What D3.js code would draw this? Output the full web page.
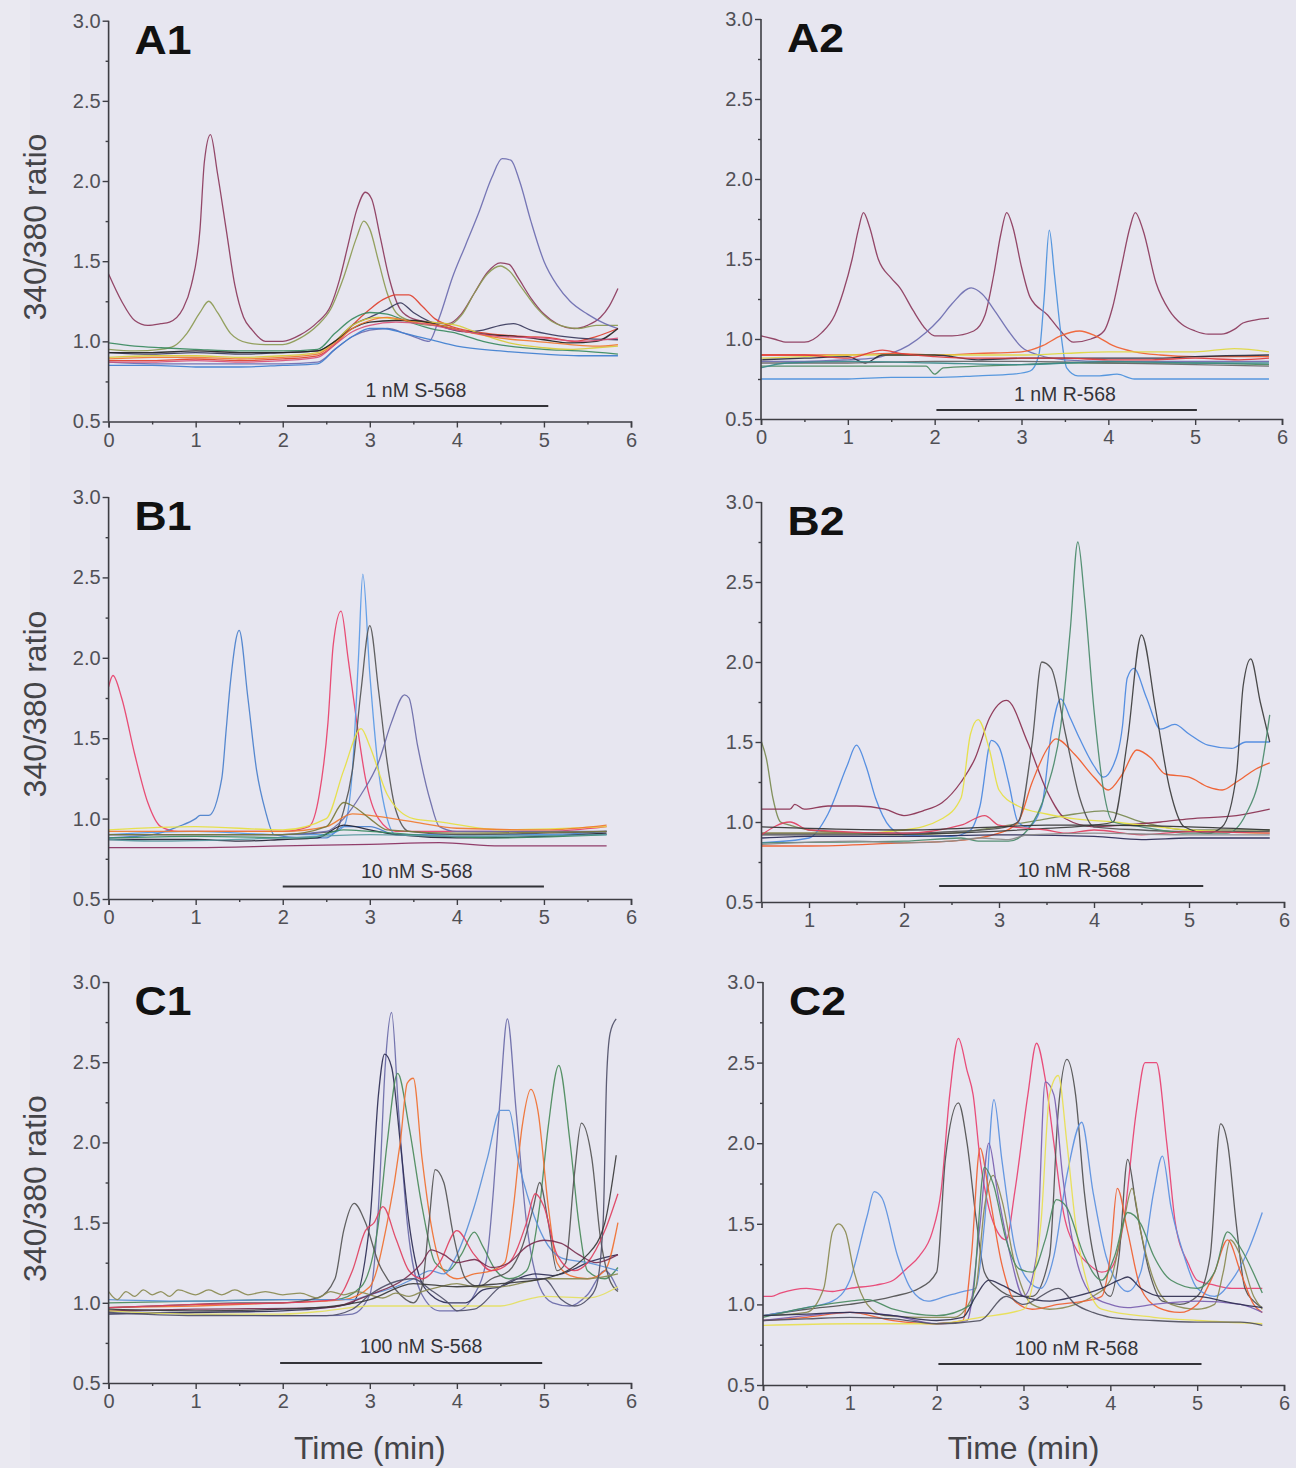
<!DOCTYPE html>
<html><head><meta charset="utf-8">
<script src="https://cdn.jsdelivr.net/npm/d3@7"></script>
<style>
html,body{margin:0;padding:0;background:#e7e6f0;}
svg{display:block;}
text{font-family:"Liberation Sans",Arial,Helvetica,sans-serif;}
</style></head><body>
<svg id="chart" width="1296" height="1468"></svg>
<script>
// ---------------- DATA ----------------
const yTickValues = [0.5, 1.0, 1.5, 2.0, 2.5, 3.0];
const yTickLabels = ["0.5", "1.0", "1.5", "2.0", "2.5", "3.0"];
const xTickValues = [0, 1, 2, 3, 4, 5, 6];
const xTickValuesB2 = [1, 2, 3, 4, 5, 6];
const panelNames = ["A1", "A2", "B1", "B2", "C1", "C2"];
const drugLabels = ["1 nM S-568", "1 nM R-568", "10 nM S-568", "10 nM R-568", "100 nM S-568", "100 nM R-568"];
const drugStart = [2.05, 2.02, 2.0, 2.37, 1.97, 2.02];
const drugEnd = [5.05, 5.02, 5.0, 5.15, 4.98, 5.05];

// A1 traces [time (min), 340/380 ratio]
const A1 = [
 [[0,1.42],[0.15,1.25],[0.3,1.13],[0.45,1.1],[0.6,1.11],[0.7,1.12],[0.85,1.2],[0.95,1.35],[1.05,1.7],[1.1,2.12],[1.17,2.29],[1.25,2.05],[1.35,1.7],[1.45,1.35],[1.55,1.15],[1.65,1.07],[1.8,1.0],[2.0,1.0],[2.2,1.04],[2.4,1.12],[2.55,1.22],[2.65,1.38],[2.75,1.6],[2.85,1.82],[2.95,1.93],[3.02,1.89],[3.12,1.65],[3.22,1.4],[3.35,1.2],[3.5,1.14],[3.7,1.12],[3.9,1.11],[4.05,1.17],[4.2,1.3],[4.35,1.43],[4.5,1.49],[4.6,1.48],[4.7,1.4],[4.85,1.27],[5.0,1.17],[5.15,1.11],[5.35,1.08],[5.5,1.1],[5.65,1.15],[5.75,1.22],[5.85,1.33]],
 [[0,0.95],[0.3,0.94],[0.6,0.95],[0.75,0.97],[0.9,1.05],[1.05,1.18],[1.15,1.25],[1.25,1.18],[1.4,1.05],[1.6,0.99],[1.8,0.98],[2.0,0.98],[2.2,1.02],[2.4,1.1],[2.55,1.2],[2.7,1.4],[2.85,1.65],[2.93,1.75],[3.0,1.7],[3.1,1.5],[3.2,1.3],[3.3,1.18],[3.45,1.13],[3.7,1.1],[3.9,1.1],[4.05,1.16],[4.2,1.3],[4.35,1.42],[4.5,1.47],[4.6,1.44],[4.75,1.33],[4.9,1.22],[5.05,1.14],[5.25,1.09],[5.4,1.08],[5.6,1.1],[5.85,1.1]],
 [[0,0.87],[0.5,0.86],[1.0,0.86],[1.5,0.86],[2.0,0.86],[2.4,0.87],[2.6,0.95],[2.8,1.03],[3.0,1.07],[3.2,1.08],[3.4,1.05],[3.55,1.02],[3.68,1.0],[3.8,1.15],[3.95,1.4],[4.1,1.6],[4.25,1.8],[4.4,2.02],[4.52,2.14],[4.62,2.13],[4.72,2.0],[4.85,1.75],[5.0,1.5],[5.15,1.35],[5.3,1.25],[5.5,1.17],[5.7,1.11],[5.85,1.08]],
 [[0,0.88],[0.5,0.88],[1.0,0.89],[1.5,0.88],[2.0,0.89],[2.4,0.91],[2.6,0.98],[2.8,1.1],[3.0,1.2],[3.15,1.26],[3.3,1.29],[3.45,1.29],[3.6,1.22],[3.75,1.14],[3.9,1.1],[4.2,1.06],[4.5,1.04],[4.8,1.03],[5.1,1.02],[5.35,1.0],[5.6,1.03],[5.85,1.08]],
 [[0,0.93],[0.5,0.92],[1.0,0.93],[1.5,0.92],[2.0,0.93],[2.4,0.94],[2.6,1.0],[2.8,1.1],[3.0,1.15],[3.2,1.2],[3.35,1.24],[3.5,1.18],[3.7,1.12],[3.9,1.08],[4.1,1.06],[4.3,1.07],[4.5,1.1],[4.65,1.11],[4.85,1.07],[5.1,1.04],[5.4,1.02],[5.85,1.01]],
 [[0,0.99],[0.3,0.97],[0.6,0.96],[1.0,0.95],[1.5,0.94],[2.0,0.94],[2.4,0.95],[2.6,1.05],[2.8,1.14],[3.0,1.18],[3.2,1.17],[3.4,1.13],[3.7,1.08],[4.0,1.05],[4.3,1.0],[4.6,0.97],[5.0,0.95],[5.4,0.94],[5.85,0.92]],
 [[0,0.9],[0.5,0.91],[1.0,0.91],[1.5,0.9],[2.0,0.91],[2.4,0.93],[2.6,1.0],[2.8,1.1],[3.1,1.15],[3.4,1.13],[3.7,1.12],[4.0,1.1],[4.3,1.04],[4.6,0.99],[5.0,0.96],[5.3,0.95],[5.6,0.96],[5.85,0.97]],
 [[0,0.85],[0.5,0.85],[1.0,0.84],[1.5,0.84],[2.0,0.85],[2.4,0.86],[2.6,0.95],[2.8,1.03],[3.0,1.08],[3.15,1.08],[3.4,1.05],[3.7,1.01],[4.0,0.97],[4.5,0.94],[5.0,0.92],[5.4,0.91],[5.85,0.91]],
 [[0,0.93],[0.5,0.93],[1.0,0.94],[1.5,0.93],[2.0,0.93],[2.4,0.94],[2.6,1.0],[2.8,1.08],[3.0,1.12],[3.3,1.13],[3.5,1.13],[3.8,1.1],[4.1,1.06],[4.4,1.04],[4.7,1.03],[5.0,1.01],[5.3,0.99],[5.6,1.0],[5.85,1.08]],
 [[0,0.89],[0.5,0.9],[1.0,0.9],[1.5,0.89],[2.0,0.9],[2.4,0.92],[2.6,0.99],[2.8,1.08],[3.0,1.13],[3.2,1.15],[3.5,1.12],[3.8,1.1],[4.1,1.06],[4.5,1.02],[4.9,1.0],[5.3,0.98],[5.6,0.97],[5.85,0.98]],
 [[0,0.87],[0.5,0.87],[1.0,0.88],[1.5,0.87],[2.0,0.88],[2.4,0.9],[2.6,0.98],[2.8,1.06],[3.0,1.1],[3.3,1.12],[3.6,1.11],[4.0,1.07],[4.5,1.03],[5.0,1.02],[5.4,1.0],[5.85,1.02]]
];
const A2 = [
 [[0,1.02],[0.15,1.0],[0.3,0.98],[0.5,0.98],[0.7,1.04],[0.85,1.15],[0.95,1.3],[1.05,1.5],[1.12,1.68],[1.18,1.79],[1.25,1.7],[1.35,1.5],[1.5,1.38],[1.6,1.32],[1.75,1.18],[1.9,1.06],[2.0,1.02],[2.2,1.02],[2.45,1.05],[2.58,1.15],[2.68,1.4],[2.76,1.65],[2.83,1.79],[2.9,1.7],[3.0,1.45],[3.1,1.26],[3.3,1.15],[3.45,1.05],[3.6,0.98],[3.8,1.0],[3.95,1.05],[4.05,1.2],[4.15,1.45],[4.25,1.7],[4.31,1.79],[4.4,1.68],[4.55,1.35],[4.7,1.18],[4.85,1.09],[5.0,1.05],[5.15,1.03],[5.3,1.03],[5.45,1.06],[5.55,1.1],[5.7,1.12],[5.85,1.13]],
 [[0,0.86],[0.5,0.86],[1.0,0.87],[1.3,0.88],[1.5,0.91],[1.7,0.96],[1.9,1.04],[2.05,1.12],[2.2,1.22],[2.42,1.32],[2.55,1.28],[2.7,1.17],[2.85,1.05],[3.0,0.95],[3.2,0.9],[3.5,0.87],[4.0,0.86],[4.5,0.86],[5.0,0.86],[5.85,0.86]],
 [[0,0.75],[0.5,0.75],[1.0,0.75],[1.5,0.76],[2.0,0.76],[2.5,0.77],[2.9,0.78],[3.1,0.8],[3.2,0.9],[3.26,1.25],[3.32,1.68],[3.38,1.4],[3.45,1.05],[3.52,0.82],[3.65,0.77],[3.9,0.77],[4.1,0.78],[4.3,0.75],[5.0,0.75],[5.85,0.75]],
 [[0,0.9],[0.5,0.9],[1.0,0.9],[1.5,0.91],[2.0,0.9],[2.5,0.91],[3.0,0.92],[3.25,0.96],[3.45,1.02],[3.67,1.05],[3.85,1.02],[4.05,0.96],[4.3,0.92],[4.6,0.9],[5.0,0.89],[5.4,0.89],[5.85,0.89]],
 [[0,0.88],[0.5,0.89],[1.0,0.9],[2.0,0.9],[3.0,0.9],[3.5,0.91],[4.0,0.92],[4.5,0.92],[5.0,0.92],[5.45,0.94],[5.85,0.92]],
 [[0,0.83],[0.5,0.83],[1.0,0.83],[1.5,0.83],[1.9,0.83],[2.0,0.78],[2.1,0.82],[2.5,0.83],[3.0,0.84],[3.5,0.85],[4.0,0.85],[5.0,0.85],[5.85,0.84]],
 [[0,0.87],[0.5,0.88],[1.0,0.89],[1.2,0.85],[1.4,0.9],[2.0,0.9],[2.5,0.87],[3.0,0.88],[3.5,0.88],[4.0,0.88],[4.5,0.88],[5.0,0.89],[5.85,0.9]],
 [[0,0.9],[0.5,0.9],[1.0,0.88],[1.4,0.93],[1.6,0.91],[2.0,0.89],[2.5,0.88],[3.0,0.88],[3.5,0.88],[4.0,0.87],[4.5,0.87],[5.0,0.88],[5.5,0.87],[5.85,0.88]],
 [[0,0.85],[0.5,0.85],[1.0,0.85],[2.0,0.86],[3.0,0.86],[4.0,0.85],[5.0,0.84],[5.85,0.83]],
 [[0,0.82],[0.3,0.85],[1.0,0.86],[2.0,0.85],[3.0,0.84],[4.0,0.86],[5.0,0.85],[5.85,0.85]]
];
const B1 = [
 [[0,1.82],[0.05,1.89],[0.15,1.75],[0.3,1.4],[0.45,1.1],[0.6,0.95],[0.8,0.92],[1.5,0.92],[2.0,0.92],[2.3,0.95],[2.42,1.15],[2.52,1.6],[2.58,2.08],[2.67,2.29],[2.75,2.0],[2.85,1.6],[2.95,1.25],[3.1,1.0],[3.3,0.92],[4.0,0.92],[5.0,0.92],[5.72,0.95]],
 [[0,0.88],[0.5,0.9],[0.8,0.95],[1.0,1.0],[1.05,1.02],[1.15,1.02],[1.3,1.25],[1.35,1.55],[1.4,1.85],[1.5,2.17],[1.6,1.75],[1.7,1.3],[1.8,1.05],[1.9,0.9],[2.2,0.88],[2.5,0.88],[2.7,0.95],[3.0,0.95],[3.3,0.9],[4.0,0.9],[5.0,0.9],[5.72,0.92]],
 [[0,0.9],[1.0,0.92],[2.0,0.9],[2.5,0.9],[2.7,0.95],[2.8,1.3],[2.87,2.0],[2.92,2.52],[3.0,1.9],[3.1,1.3],[3.2,1.0],[3.3,0.9],[4.0,0.9],[5.0,0.9],[5.72,0.9]],
 [[0,0.9],[1.0,0.9],[2.0,0.9],[2.6,0.92],[2.7,1.05],[2.8,1.3],[2.9,1.8],[3.0,2.2],[3.1,1.8],[3.2,1.35],[3.3,1.05],[3.45,0.92],[4.0,0.9],[5.0,0.91],[5.72,0.92]],
 [[0,0.9],[1.0,0.9],[2.0,0.9],[2.5,0.92],[2.7,1.0],[2.9,1.15],[3.1,1.35],[3.25,1.6],[3.4,1.77],[3.45,1.75],[3.55,1.45],[3.7,1.1],[3.8,0.95],[4.0,0.92],[5.0,0.92],[5.72,0.92]],
 [[0,0.93],[1.0,0.95],[2.0,0.93],[2.5,1.0],[2.7,1.3],[2.9,1.56],[3.0,1.45],[3.2,1.15],[3.5,1.0],[3.8,0.98],[4.5,0.93],[5.72,0.95]],
 [[0,0.92],[1.0,0.92],[2.0,0.92],[2.5,0.95],[2.8,1.03],[3.0,1.02],[3.5,0.98],[4.0,0.94],[5.0,0.93],[5.72,0.96]],
 [[0,0.9],[1.0,0.9],[2.0,0.9],[2.5,0.95],[2.7,1.1],[2.8,1.08],[3.0,1.0],[3.2,0.93],[4.0,0.91],[5.72,0.92]],
 [[0,0.87],[1.0,0.87],[1.5,0.86],[2.0,0.87],[2.4,0.88],[2.7,0.96],[3.0,0.93],[3.3,0.9],[4.0,0.88],[5.0,0.89],[5.72,0.91]],
 [[0,0.88],[1.0,0.89],[2.3,0.88],[2.7,0.93],[3.0,0.92],[3.5,0.9],[4.5,0.88],[5.72,0.9]],
 [[0,0.82],[1.0,0.82],[2.0,0.83],[3.0,0.84],[3.8,0.85],[4.5,0.83],[5.72,0.83]],
 [[0,0.87],[0.5,0.86],[2.0,0.88],[3.0,0.9],[4.0,0.89],[5.72,0.9]]
];
const B2 = [
 [[0.5,1.5],[0.55,1.4],[0.62,1.15],[0.7,1.0],[0.8,0.98],[1.0,0.95],[1.5,0.93],[2.0,0.92],[2.5,0.93],[3.0,0.97],[3.5,1.02],[3.8,1.05],[4.1,1.07],[4.5,1.0],[5.0,0.95],[5.85,0.95]],
 [[0.5,0.87],[1.0,0.9],[1.2,1.05],[1.4,1.35],[1.5,1.48],[1.6,1.35],[1.7,1.15],[1.85,0.97],[2.0,0.92],[2.5,0.91],[2.7,0.95],[2.8,1.1],[2.92,1.51],[3.0,1.47],[3.1,1.25],[3.2,1.0],[3.3,0.97],[3.45,1.1],[3.55,1.55],[3.65,1.77],[3.75,1.65],[3.85,1.52],[4.0,1.35],[4.1,1.28],[4.2,1.35],[4.3,1.6],[4.35,1.9],[4.42,1.96],[4.55,1.78],[4.7,1.58],[4.85,1.61],[5.0,1.55],[5.2,1.48],[5.45,1.46],[5.6,1.5],[5.85,1.5]],
 [[0.5,1.08],[0.8,1.08],[0.85,1.11],[0.95,1.08],[1.2,1.1],[1.5,1.1],[1.8,1.08],[2.0,1.04],[2.2,1.07],[2.4,1.12],[2.6,1.25],[2.75,1.4],[2.9,1.65],[3.08,1.76],[3.3,1.5],[3.5,1.2],[3.7,1.02],[4.0,0.97],[4.3,0.98],[4.7,1.0],[5.0,1.02],[5.5,1.04],[5.85,1.08]],
 [[0.5,0.93],[1.5,0.93],[2.0,0.95],[2.4,1.02],[2.6,1.15],[2.7,1.55],[2.78,1.64],[2.9,1.45],[3.0,1.2],[3.2,1.1],[3.5,1.05],[3.8,1.02],[4.2,1.0],[5.0,0.95],[5.85,0.93]],
 [[0.5,0.85],[1.0,0.85],[2.0,0.87],[2.5,0.88],[3.0,0.93],[3.2,1.0],[3.35,1.25],[3.5,1.45],[3.6,1.52],[3.8,1.42],[4.0,1.28],[4.15,1.2],[4.3,1.3],[4.45,1.45],[4.6,1.4],[4.75,1.3],[5.0,1.28],[5.2,1.22],[5.35,1.2],[5.5,1.25],[5.7,1.33],[5.85,1.37]],
 [[0.5,0.93],[1.0,0.93],[2.0,0.93],[2.5,0.94],[3.0,0.96],[3.2,1.0],[3.35,1.5],[3.45,2.0],[3.55,1.96],[3.7,1.55],[3.85,1.15],[4.0,0.97],[4.5,0.95],[5.0,0.94],[5.85,0.94]],
 [[0.5,0.92],[1.5,0.92],[2.5,0.93],[3.5,0.96],[4.0,0.98],[4.2,1.0],[4.35,1.5],[4.5,2.17],[4.65,1.7],[4.8,1.2],[4.95,0.97],[5.2,0.93],[5.35,0.97],[5.5,1.3],[5.57,1.85],[5.65,2.02],[5.75,1.75],[5.85,1.5]],
 [[0.5,0.87],[2.0,0.88],[2.6,0.9],[2.8,0.88],[3.1,0.88],[3.3,0.95],[3.5,1.2],[3.65,1.6],[3.75,2.2],[3.83,2.75],[3.9,2.4],[4.0,1.7],[4.1,1.2],[4.2,1.0],[4.5,0.97],[5.0,0.93],[5.4,0.93],[5.6,1.05],[5.75,1.3],[5.85,1.67]],
 [[0.5,0.92],[0.8,1.0],[1.0,0.95],[2.0,0.93],[2.6,0.98],[2.85,1.04],[3.0,0.98],[3.5,0.95],[3.7,0.93],[4.0,0.95],[4.5,0.92],[5.0,0.94],[5.85,0.93]],
 [[0.5,0.9],[1.0,0.91],[2.0,0.91],[3.0,0.92],[4.0,0.91],[4.5,0.89],[5.0,0.9],[5.85,0.9]],
 [[0.5,0.97],[1.0,0.96],[2.0,0.95],[3.0,0.97],[3.5,0.98],[4.0,0.98],[5.0,0.97],[5.85,0.95]],
 [[0.5,0.86],[1.5,0.88],[2.0,0.87],[2.5,0.88],[2.8,0.9],[3.1,0.89],[3.3,0.92],[4.0,0.93],[5.0,0.92],[5.85,0.92]]
];
const C1 = [
 [[0,0.95],[1,0.93],[2,0.92],[2.5,0.92],[2.8,0.93],[3.0,1.05],[3.1,1.6],[3.18,2.5],[3.25,2.81],[3.33,2.2],[3.43,1.5],[3.6,1.05],[3.8,0.95],[4.0,0.95],[4.2,1.05],[4.35,1.3],[4.42,1.7],[4.5,2.3],[4.58,2.77],[4.68,2.2],[4.8,1.5],[4.95,1.1],[5.1,1.0],[5.3,0.98],[5.5,1.05],[5.7,1.2],[5.85,1.08]],
 [[0,0.93],[1,0.94],[2,0.95],[2.5,0.97],[2.8,1.0],[3.0,1.5],[3.1,2.3],[3.17,2.55],[3.25,2.47],[3.35,2.0],[3.45,1.5],[3.55,1.2],[3.7,1.05],[3.9,1.0],[4.1,1.0],[4.3,1.08],[4.5,1.1],[4.7,1.15],[4.9,1.18],[5.1,1.17],[5.3,1.2],[5.5,1.25],[5.85,1.3]],
 [[0,1.0],[1,1.01],[2,1.02],[2.6,1.02],[2.9,1.1],[3.1,1.5],[3.2,2.0],[3.32,2.43],[3.45,2.1],[3.6,1.6],[3.75,1.25],[3.9,1.2],[4.05,1.3],[4.2,1.44],[4.3,1.35],[4.45,1.2],[4.6,1.15],[4.8,1.2],[4.95,1.6],[5.05,2.1],[5.17,2.48],[5.3,2.0],[5.4,1.5],[5.5,1.2],[5.7,1.15],[5.85,1.22]],
 [[0,0.97],[1,0.98],[2,1.0],[2.7,1.02],[3.0,1.1],[3.2,1.5],[3.35,2.0],[3.43,2.37],[3.5,2.4],[3.6,1.9],[3.7,1.5],[3.85,1.2],[4.0,1.15],[4.2,1.18],[4.4,1.2],[4.55,1.25],[4.65,1.6],[4.75,2.1],[4.85,2.33],[4.93,2.2],[5.05,1.6],[5.15,1.25],[5.3,1.17],[5.5,1.15],[5.7,1.2],[5.85,1.5]],
 [[0,1.02],[1,1.01],[2,1.02],[2.8,1.02],[3.0,1.05],[3.3,1.1],[3.5,1.15],[3.7,1.2],[3.85,1.18],[4.0,1.3],[4.2,1.6],[4.35,1.9],[4.5,2.2],[4.6,2.2],[4.7,1.9],[4.85,1.6],[5.0,1.4],[5.2,1.28],[5.5,1.25],[5.85,1.2]],
 [[0,0.97],[1,0.99],[1.5,1.0],[2.0,1.0],[2.4,1.03],[2.6,1.15],[2.7,1.45],[2.82,1.62],[2.95,1.5],[3.1,1.25],[3.3,1.08],[3.5,1.0],[3.6,1.1],[3.68,1.5],[3.75,1.83],[3.85,1.75],[3.95,1.45],[4.1,1.15],[4.25,1.1],[4.4,1.15],[4.6,1.2],[4.75,1.35],[4.88,1.6],[4.95,1.75],[5.05,1.5],[5.15,1.2],[5.25,1.25],[5.35,1.8],[5.43,2.12],[5.55,1.9],[5.65,1.4],[5.75,1.15],[5.85,1.07]],
 [[0,0.97],[1,0.99],[2,1.0],[2.6,1.02],[2.8,1.2],[2.95,1.45],[3.05,1.5],[3.15,1.6],[3.3,1.4],[3.45,1.2],[3.6,1.15],[3.8,1.25],[4.0,1.45],[4.2,1.3],[4.4,1.2],[4.6,1.25],[4.8,1.5],[4.9,1.68],[5.0,1.6],[5.15,1.3],[5.35,1.2],[5.5,1.25],[5.7,1.45],[5.85,1.68]],
 [[0,0.95],[1,0.96],[2.5,0.97],[3.0,1.05],[3.4,1.15],[3.6,1.25],[3.7,1.33],[3.85,1.3],[4.0,1.25],[4.2,1.27],[4.4,1.22],[4.6,1.25],[4.8,1.35],[5.0,1.39],[5.2,1.37],[5.4,1.3],[5.6,1.25],[5.85,1.3]],
 [[0,1.07],[0.1,1.02],[0.2,1.07],[0.3,1.04],[0.4,1.08],[0.5,1.05],[0.6,1.07],[0.7,1.04],[0.8,1.08],[1.0,1.05],[1.15,1.08],[1.3,1.05],[1.45,1.08],[1.6,1.05],[1.8,1.07],[2.0,1.05],[2.2,1.06],[2.4,1.03],[2.55,1.07],[2.7,1.05],[2.85,1.07],[3.0,1.05],[3.15,1.03],[3.3,1.06],[3.45,1.04],[3.6,1.07],[3.8,1.1],[4.0,1.12],[4.2,1.1],[4.5,1.1],[4.8,1.13],[5.0,1.15],[5.3,1.15],[5.5,1.15],[5.85,1.18]],
 [[0,0.95],[1,0.93],[2,0.93],[2.5,0.95],[3,0.98],[3.5,0.98],[4,0.98],[4.5,0.98],[4.8,1.02],[5.0,1.04],[5.5,1.03],[5.85,1.1]],
 [[0,0.94],[1,0.92],[2,0.92],[2.5,0.92],[2.8,0.96],[3,1.05],[3.5,1.15],[3.7,1.08],[3.9,1.0],[4.0,0.95],[4.2,0.96],[4.5,1.1],[4.7,1.15],[5.0,1.15],[5.2,1.02],[5.35,0.98],[5.5,1.02],[5.6,1.1],[5.68,1.5],[5.72,2.4],[5.76,2.68],[5.83,2.77]],
 [[0,0.96],[1,0.95],[2,0.96],[2.6,0.98],[3.0,1.02],[3.5,1.12],[4.0,1.1],[4.5,1.12],[5.0,1.15],[5.5,1.3],[5.7,1.5],[5.83,1.92]]
];
const C2 = [
 [[0,1.05],[0.1,1.05],[0.2,1.07],[0.5,1.1],[0.8,1.08],[1.0,1.1],[1.3,1.12],[1.5,1.15],[1.65,1.22],[1.8,1.3],[1.95,1.45],[2.05,1.7],[2.15,2.3],[2.25,2.65],[2.35,2.45],[2.42,2.3],[2.5,1.9],[2.6,1.6],[2.7,1.45],[2.8,1.4],[2.9,1.7],[3.05,2.3],[3.15,2.62],[3.25,2.4],[3.35,2.0],[3.45,1.6],[3.6,1.35],[3.75,1.25],[3.9,1.2],[4.0,1.22],[4.15,1.5],[4.3,2.2],[4.4,2.5],[4.53,2.5],[4.65,2.0],[4.75,1.5],[4.9,1.25],[5.0,1.15],[5.2,1.12],[5.4,1.1],[5.75,1.1]],
 [[0,0.93],[0.5,0.97],[1.0,1.0],[1.5,1.05],[1.8,1.1],[2.0,1.2],[2.1,1.9],[2.25,2.25],[2.35,2.0],[2.45,1.55],[2.55,1.2],[2.7,1.1],[2.9,1.05],[3.1,1.05],[3.3,1.3],[3.4,2.2],[3.5,2.52],[3.6,2.3],[3.7,1.7],[3.85,1.2],[4.0,1.05],[4.1,1.3],[4.2,1.9],[4.3,1.6],[4.45,1.2],[4.6,1.02],[4.8,1.0],[5.0,1.05],[5.15,1.3],[5.27,2.12],[5.35,2.0],[5.45,1.5],[5.55,1.1],[5.65,1.02],[5.75,0.98]],
 [[0,0.93],[0.5,0.98],[0.8,1.02],[1.0,1.15],[1.2,1.55],[1.28,1.7],[1.37,1.66],[1.55,1.3],[1.7,1.1],[1.9,1.02],[2.1,1.05],[2.3,1.08],[2.45,1.1],[2.55,1.5],[2.66,2.27],[2.75,1.9],[2.9,1.35],[3.05,1.15],[3.2,1.1],[3.35,1.3],[3.5,1.8],[3.67,2.13],[3.8,1.7],[3.95,1.3],[4.1,1.12],[4.2,1.08],[4.35,1.2],[4.5,1.7],[4.6,1.92],[4.7,1.6],[4.85,1.3],[5.0,1.1],[5.2,1.05],[5.4,1.15],[5.6,1.35],[5.75,1.57]],
 [[0,0.93],[0.5,0.95],[0.7,1.1],[0.8,1.45],[0.87,1.5],[0.95,1.45],[1.05,1.2],[1.2,1.0],[1.4,0.93],[1.8,0.92],[2.2,0.92],[2.45,1.1],[2.55,1.6],[2.65,1.8],[2.75,1.65],[2.9,1.25],[3.1,1.0],[3.3,0.97],[3.6,1.0],[3.8,1.05],[4.0,1.15],[4.15,1.5],[4.25,1.72],[4.35,1.45],[4.5,1.15],[4.7,1.0],[5.0,0.97],[5.2,1.0],[5.3,1.2],[5.38,1.4],[5.5,1.3],[5.65,1.05],[5.75,0.97]],
 [[0,0.9],[0.5,0.92],[1.0,0.95],[1.5,0.9],[2.0,0.88],[2.3,0.9],[2.4,1.3],[2.5,1.97],[2.6,1.7],[2.75,1.25],[2.9,1.02],[3.1,0.97],[3.4,1.0],[3.7,1.02],[3.9,1.05],[4.0,1.3],[4.08,1.72],[4.2,1.45],[4.35,1.1],[4.55,0.98],[4.8,0.95],[5.0,1.0],[5.2,1.2],[5.35,1.4],[5.5,1.2],[5.65,1.0],[5.75,0.95]],
 [[0,0.9],[0.5,0.93],[1.0,0.95],[1.5,0.93],[2.0,0.88],[2.35,0.9],[2.5,1.5],[2.6,2.0],[2.7,1.7],[2.85,1.3],[3.0,1.05],[3.15,1.3],[3.25,2.38],[3.35,2.3],[3.45,1.8],[3.6,1.3],[3.8,1.05],[4.0,1.0],[4.2,0.98],[4.5,1.0],[5.0,1.02],[5.5,1.0],[5.75,0.95]],
 [[0,0.87],[1.0,0.88],[2.0,0.88],[2.5,0.92],[3.0,0.97],[3.2,1.5],[3.3,2.3],[3.4,2.42],[3.5,2.0],[3.6,1.5],[3.75,1.1],[3.9,0.97],[4.5,0.92],[5.0,0.9],[5.75,0.88]],
 [[0,0.92],[0.5,0.98],[1.0,1.02],[1.2,1.03],[1.5,0.97],[2.0,0.93],[2.4,1.0],[2.55,1.85],[2.65,1.75],[2.8,1.4],[2.95,1.22],[3.1,1.2],[3.25,1.4],[3.38,1.65],[3.5,1.6],[3.7,1.3],[3.9,1.15],[4.05,1.3],[4.2,1.57],[4.35,1.5],[4.5,1.3],[4.7,1.15],[5.0,1.1],[5.2,1.2],[5.35,1.45],[5.5,1.35],[5.75,1.07]],
 [[0,0.93],[0.5,0.94],[1.0,0.95],[1.5,0.93],[2.0,0.9],[2.3,0.92],[2.45,1.05],[2.6,1.15],[2.75,1.12],[3.0,1.05],[3.3,1.02],[3.6,1.05],[3.9,1.1],[4.1,1.15],[4.2,1.17],[4.35,1.1],[4.6,1.05],[5.0,1.05],[5.3,1.02],[5.5,1.0],[5.75,0.98]],
 [[0,0.9],[0.5,0.91],[1.0,0.92],[1.5,0.91],[2.0,0.88],[2.5,0.9],[2.8,1.05],[3.0,1.0],[3.4,1.1],[3.6,1.0],[3.8,0.95],[4.0,0.92],[4.5,0.9],[5.0,0.89],[5.5,0.89],[5.75,0.87]]
];
const panelData = [A1, A2, B1, B2, C1, C2];

// ---------------- STYLE / LAYOUT ----------------
const A1_colors = ["#8c3a5c","#8c9a52","#6c6cb0","#e0402e","#3a3a5c","#3a8a60","#d8cc3a","#3f7fd0","#222222","#f07a30","#d85078"];
const A2_colors = ["#8c3a5c","#6c6cb0","#4a90dc","#f06030","#e0d840","#4a8a60","#2a2a3a","#e03a3a","#666666","#3a8a8a"];
const B1_colors = ["#e8406a","#4a80cc","#5a9ae6","#555555","#6a6aa8","#e6e040","#f07a30","#7a7a3a","#222233","#3a8a60","#8a3060","#5a9aa0"];
const B2_colors = ["#7a8a50","#4a88e0","#8a3050","#e6e040","#f05a28","#505050","#3c3c3c","#4a8a6a","#e04060","#2a2a55","#333333","#8a8a8a"];
const C1_colors = ["#6a6aa8","#2e2e55","#4a8a5a","#f07030","#5a90d8","#555555","#e04060","#7a3050","#8a8a50","#e4e060","#505068","#3a3a3a"];
const C2_colors = ["#e84070","#505050","#5a90e0","#8a8a50","#f06030","#7a60b0","#e8e050","#4a8a60","#303050","#505060"];
const colors = [A1_colors, A2_colors, B1_colors, B2_colors, C1_colors, C2_colors];

const layout = [
  {x:[108.6,631], y:[421.5,20.7], xd:[0,6], xt:xTickValues, bar:0.597, txt:0.652, tx:3.53},
  {x:[761,1282], y:[419,19], xd:[0,6], xt:xTickValues, bar:0.556, txt:0.615, tx:3.5},
  {x:[108.6,631], y:[899,497], xd:[0,6], xt:xTickValues, bar:0.577, txt:0.633, tx:3.54},
  {x:[761.5,1284], y:[902,502], xd:[0.5,6], xt:xTickValuesB2, bar:0.6, txt:0.658, tx:3.79},
  {x:[108.6,631], y:[1383,982], xd:[0,6], xt:xTickValues, bar:0.625, txt:0.687, tx:3.59},
  {x:[763,1284], y:[1385,982], xd:[0,6], xt:xTickValues, bar:0.63, txt:0.686, tx:3.61}
];

const svg = d3.select("#chart");
svg.append("rect").attr("width",1296).attr("height",1468).attr("fill","#e7e6f0");
svg.append("rect").attr("width",30).attr("height",1468).attr("fill","#eae9f1");

const axisColor = "#3e3e44";
const textColor = "#505056";

layout.forEach((L, i) => {
  const xs = d3.scaleLinear().domain(L.xd).range(L.x);
  const ys = d3.scaleLinear().domain([0.5,3.0]).range(L.y);
  const g = svg.append("g");

  // traces
  const line = d3.line().x(d => xs(d[0])).y(d => ys(d[1])).curve(d3.curveMonotoneX);
  const pal = colors[i];
  panelData[i].forEach((tr, k) => {
    g.append("path").attr("d", line(tr)).attr("fill","none")
      .attr("stroke", pal[k % pal.length]).attr("stroke-width",1.3)
      .attr("stroke-linejoin","round").attr("opacity",0.92);
  });

  // axes
  const yAxis = d3.axisLeft(ys).tickValues(yTickValues).tickFormat((d,j)=>yTickLabels[j]).tickSize(6).tickPadding(2);
  const ya = g.append("g").attr("transform",`translate(${L.x[0]},0)`).call(yAxis);
  const yMinor = d3.axisLeft(ys).tickValues([0.75,1.25,1.75,2.25,2.75]).tickFormat("").tickSize(3);
  const ym = g.append("g").attr("transform",`translate(${L.x[0]},0)`).call(yMinor);
  const xAxis = d3.axisBottom(xs).tickValues(L.xt).tickFormat(d3.format("d")).tickSize(6).tickPadding(5);
  const xa = g.append("g").attr("transform",`translate(0,${L.y[0]})`).call(xAxis);
  const minorX = [0.5,1.5,2.5,3.5,4.5,5.5].filter(v => v > L.xd[0]);
  const xMinor = d3.axisBottom(xs).tickValues(minorX).tickFormat("").tickSize(3);
  const xm = g.append("g").attr("transform",`translate(0,${L.y[0]})`).call(xMinor);
  [ya, ym, xa, xm].forEach(a => {
    a.select(".domain").attr("stroke",axisColor).attr("stroke-width",1.6);
    a.selectAll(".tick line").attr("stroke",axisColor).attr("stroke-width",1.4);
    a.selectAll("text").attr("fill",textColor).attr("font-size",20)
      .attr("font-family",'"Liberation Sans",Arial,sans-serif');
  });
  ym.select(".domain").remove(); xm.select(".domain").remove();
  ya.select(".domain").attr("d", `M-0,${L.y[0]}V${L.y[1]}`);

  // panel label
  g.append("text").attr("x", L.x[0]+26).attr("y", L.y[1]+33)
    .attr("font-size",40).attr("font-weight","bold").attr("fill","#111")
    .attr("textLength",57).attr("lengthAdjust","spacingAndGlyphs")
    .text(panelNames[i]);

  // drug bar
  g.append("line").attr("x1", xs(drugStart[i])).attr("x2", xs(drugEnd[i]))
    .attr("y1", ys(L.bar)).attr("y2", ys(L.bar))
    .attr("stroke","#333338").attr("stroke-width",2);
  g.append("text").attr("x", xs(L.tx)).attr("y", ys(L.txt))
    .attr("text-anchor","middle").attr("font-size",19.5).attr("fill","#333338")
    .text(drugLabels[i]);

  // y title (left column)
  if (i % 2 === 0) {
    const cy = (L.y[0]+L.y[1])/2 + 6;
    g.append("text").attr("transform",`translate(46,${cy}) rotate(-90)`)
      .attr("text-anchor","middle").attr("font-size",32).attr("fill","#444448")
      .text("340/380 ratio");
  }
  // x title (bottom row)
  if (i >= 4) {
    g.append("text").attr("x", xs(3)).attr("y", 1459)
      .attr("text-anchor","middle").attr("font-size",32).attr("fill","#444448")
      .text("Time (min)");
  }
});
</script>
</body></html>
